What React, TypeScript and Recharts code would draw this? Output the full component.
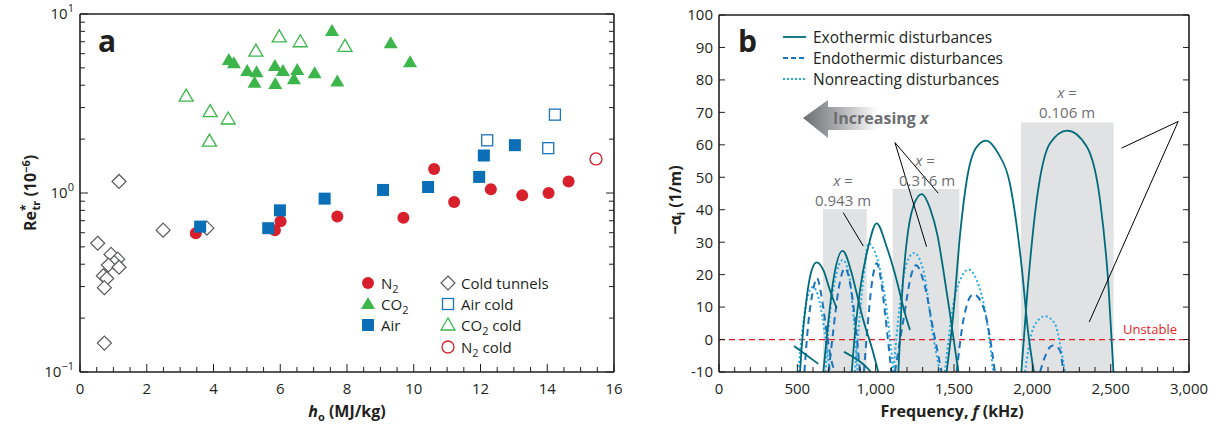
import React from 'react';
import {
  ScatterChart, Scatter, LineChart, Line, XAxis, YAxis, ReferenceArea, ReferenceLine,
} from 'recharts';

const FONT = '"Open Sans", "Noto Sans", sans-serif';
const INK = '#231f20';
const GRAY_TXT = '#6d6e71';

// ---- panel a: h0 (MJ/kg) vs Re*tr (1e-6) ----
type Pt = [number, number];
const n2: Pt[] = [[3.47, 0.595], [5.84, 0.62], [6.01, 0.695], [7.71, 0.74], [9.69, 0.728], [10.61, 1.36], [11.21, 0.89], [12.31, 1.05], [13.25, 0.97], [14.04, 1.0], [14.64, 1.16]];
const co2: Pt[] = [[4.46, 5.53], [4.61, 5.3], [5.01, 4.81], [5.29, 4.72], [5.23, 4.13], [5.84, 5.12], [6.08, 4.81], [5.85, 4.06], [6.51, 4.87], [6.41, 4.32], [7.03, 4.66], [7.71, 4.19], [7.55, 8.04], [9.31, 6.86], [9.89, 5.37]];
const air: Pt[] = [[3.6, 0.649], [5.64, 0.636], [5.99, 0.8], [7.33, 0.93], [9.08, 1.04], [10.43, 1.08], [11.96, 1.23], [12.1, 1.62], [13.03, 1.85]];
const coldTunnels: Pt[] = [[1.17, 1.16], [2.49, 0.62], [3.8, 0.636], [0.53, 0.524], [0.93, 0.454], [1.13, 0.427], [1.03, 0.408], [0.85, 0.396], [1.17, 0.385], [0.7, 0.345], [0.8, 0.333], [0.73, 0.296], [0.73, 0.145]];
const airCold: Pt[] = [[12.2, 1.97], [14.23, 2.74], [14.03, 1.78]];
const co2Cold: Pt[] = [[3.18, 3.48], [3.9, 2.85], [3.88, 1.95], [4.44, 2.59], [5.27, 6.2], [5.97, 7.45], [6.6, 7.0], [7.94, 6.6]];
const n2Cold: Pt[] = [[15.46, 1.55]];

const aXTicks = Array.from({ length: 33 }, (_, i) => i * 0.5);
const aYDecades = [0.1, 1, 10];
const aYMinor = [2, 3, 4, 5, 6, 7, 8, 9];
const aYTicks = [...aYDecades, ...[0.1, 1].flatMap((d) => aYMinor.map((m) => +(d * m).toFixed(2)))];

// ---- panel b: frequency (kHz) vs -alpha_i (1/m) ----
const exo: Pt[][] = [
  [[517, -10], [528, -2.3], [560, 13], [592, 21.4], [623, 23.8], [666, 21.4], [708, 15.2], [751, 9.6]],
  [[479, -2], [634, -7.5]],
  [[666, -10], [688, 0.8], [730, 18.3], [789, 27.3], [847, 20.4], [879, 14.2], [921, 6], [974, -2.3], [1017, -10]],
  [[798, -3.8], [941, -8.5], [970, -10]],
  [[847, -10], [870, 3], [900, 15.2], [953, 28.6], [1006, 35.8], [1070, 28.6], [1134, 18.3], [1187, 8], [1219, 2.9]],
  [[1145, -10], [1166, 12], [1198, 30], [1240, 41], [1294, 44.8], [1350, 40], [1395, 32], [1430, 22], [1474, 8], [1528, -10]],
  [[1453, -10], [1496, 8], [1540, 33], [1581, 49], [1640, 59], [1704, 61.3], [1780, 57.5], [1857, 48], [1932, 22.4], [1974, 1.9], [2010, -10]],
  [[1930, -10], [1964, 12], [2028, 43], [2113, 60.5], [2223, 64.4], [2347, 59.5], [2432, 43], [2485, 17.3], [2518, -10]],
];
const endo: Pt[][] = [
  [[545, -10], [570, 5], [600, 15], [625, 19], [652, 14], [685, 3], [715, -6], [740, -10]],
  [[700, -10], [730, 3], [765, 16], [804, 22], [845, 15], [875, 3], [900, -10]],
  [[925, -10], [950, 5], [975, 17], [1006, 23.5], [1035, 18], [1060, 8], [1085, -3], [1100, -10]],
  [[1123, -10], [1177, 6], [1230, 20.4], [1257, 22.9], [1315, 16.2], [1368, 2.9], [1421, -10]],
  [[1517, -10], [1560, 6], [1623, 14], [1687, 10], [1729, 0.8], [1761, -10]],
  [[2049, -10], [2080, -5.4], [2113, -2.3], [2133, -1.8], [2176, -3.3], [2197, -10]],
];
const nonreact: Pt[][] = [
  [[506, -10], [530, 2], [560, 12], [600, 16.2], [640, 12], [675, 2], [708, -10]],
  [[680, -10], [700, 4], [735, 17], [790, 24.5], [830, 20], [860, 6], [885, -10]],
  [[868, -10], [900, 8], [932, 23.5], [953, 29.6], [1006, 25.5], [1049, 16.2], [1081, 5], [1113, -10]],
  [[1113, -10], [1155, 11], [1198, 23.5], [1245, 26.7], [1304, 21.4], [1368, 0.8], [1410, -10]],
  [[1442, -10], [1496, 11], [1549, 19.3], [1591, 21.6], [1645, 18.3], [1709, 6], [1751, -10]],
  [[1953, -10], [1995, 1.9], [2038, 6], [2080, 7.2], [2144, 4.9], [2176, -1.2], [2208, -10]],
];
// shaded x ranges: [f0, f1, top]
const boxes: [number, number, number][] = [[664, 943, 40.2], [1108, 1534, 46.4], [1927, 2519, 66.9]];
// neutral-stability threshold line
const unstableLine: Pt[] = [[0, 0], [3000, 0]];
const bXTicks = Array.from({ length: 31 }, (_, i) => i * 100);
const bYTicks = Array.from({ length: 12 }, (_, i) => -10 + i * 10);

const xy = (a: Pt[]) => a.map(([x, y]) => ({ x, y }));
const fv = (a: Pt[]) => a.map(([f, v]) => ({ f, v }));

const RED = '#d7202b';
const GREEN = '#3cb54a';
const BLUE = '#0a6fb7';
const OPEN_BLUE = '#1b75bc';
const DIAMOND = '#58595b';
const EXO = '#006b7d';
const ENDO = '#1c75bc';
const NONR = '#29abe2';
const UNSTABLE = '#e31e26';

const filledCircle = (p: any) => <circle cx={p.cx} cy={p.cy} r={6} fill={RED} />;
const openCircle = (p: any) => <circle cx={p.cx} cy={p.cy} r={6} fill="none" stroke={RED} strokeWidth={1.3} />;
const filledTri = (p: any) => (
  <polygon points={`${p.cx},${p.cy - 7} ${p.cx - 7},${p.cy + 5} ${p.cx + 7},${p.cy + 5}`} fill={GREEN} />
);
const openTri = (p: any) => (
  <polygon points={`${p.cx},${p.cy - 7} ${p.cx - 7},${p.cy + 5} ${p.cx + 7},${p.cy + 5}`} fill="none" stroke={GREEN} strokeWidth={1.3} />
);
const filledSq = (p: any) => <rect x={p.cx - 6} y={p.cy - 6} width={12} height={12} fill={BLUE} />;
const openSq = (p: any) => <rect x={p.cx - 5.5} y={p.cy - 5.5} width={11} height={11} fill="none" stroke={OPEN_BLUE} strokeWidth={1.3} />;
const diamond = (p: any) => (
  <polygon points={`${p.cx},${p.cy - 7} ${p.cx + 7},${p.cy} ${p.cx},${p.cy + 7} ${p.cx - 7},${p.cy}`} fill="#fff" stroke={DIAMOND} strokeWidth={1.2} />
);

// inward ticks drawn by hand so majors and minors can differ
const xTick = (isMajor: (v: number) => boolean, label: ((v: number) => string) | null, inward: number) => (p: any) => {
  const v = p.payload.value;
  const maj = isMajor(v);
  const len = maj ? 8 : 5;
  return (
    <g>
      <line x1={p.x} y1={p.y} x2={p.x} y2={p.y + inward * len} stroke={INK} strokeWidth={1} />
      {label && maj ? (
        <text x={p.x} y={p.y + 22} textAnchor="middle" fontFamily={FONT} fontSize={15} fill={INK}>{label(v)}</text>
      ) : null}
    </g>
  );
};
const yTick = (isMajor: (v: number) => boolean, label: ((v: number) => React.ReactNode) | null, inward: number, majLen = 8) => (p: any) => {
  const v = p.payload.value;
  const maj = isMajor(v);
  const len = maj ? majLen : 5;
  return (
    <g>
      <line x1={p.x} y1={p.y} x2={p.x + inward * len} y2={p.y} stroke={INK} strokeWidth={1} />
      {label && maj ? (
        <text x={p.x - 6} y={p.y} dy="0.36em" textAnchor="end" fontFamily={FONT} fontSize={15} fill={INK}>{label(v)}</text>
      ) : null}
    </g>
  );
};

const isDecade = (v: number) => aYDecades.some((d) => Math.abs(d - v) < 1e-9);
const decadeLabel = (v: number) => (
  <>
    10<tspan dy={-7} fontSize={11}>{Math.round(Math.log10(v)) < 0 ? '\u2212' : ''}{Math.abs(Math.round(Math.log10(v)))}</tspan>
  </>
);

const axisLine = { stroke: INK, strokeWidth: 1.6 };

function PanelA() {
  const evenInt = (v: number) => Math.abs(v / 2 - Math.round(v / 2)) < 1e-9;
  return (
    <ScatterChart width={640} height={427} margin={{ top: 13, right: 25, bottom: 25, left: 20 }}>
      <XAxis xAxisId="b" type="number" dataKey="x" domain={[0, 16]} ticks={aXTicks} interval={0} height={30} stroke={INK}
        tickSize={0} tickMargin={0} tickLine={false} axisLine={axisLine} tick={xTick(evenInt, (v) => String(v), -1)} />
      <XAxis xAxisId="t" orientation="top" type="number" domain={[0, 16]} ticks={aXTicks} interval={0} height={1} stroke={INK}
        tickSize={0} tickMargin={0} tickLine={false} axisLine={axisLine} tick={xTick(evenInt, null, 1)} />
      <YAxis yAxisId="l" type="number" dataKey="y" scale="log" domain={[0.1, 10]} ticks={aYTicks} interval={0} width={60} stroke={INK}
        tickSize={0} tickMargin={0} tickLine={false} axisLine={axisLine} tick={yTick(isDecade, decadeLabel, 1)} allowDataOverflow />
      <YAxis yAxisId="r" orientation="right" type="number" scale="log" domain={[0.1, 10]} ticks={aYTicks} interval={0} width={1} stroke={INK}
        tickSize={0} tickMargin={0} tickLine={false} axisLine={axisLine} tick={yTick(isDecade, null, -1)} allowDataOverflow />
      <Scatter xAxisId="b" yAxisId="l" data={xy(coldTunnels)} shape={diamond} isAnimationActive={false} />
      <Scatter xAxisId="b" yAxisId="l" data={xy(n2)} shape={filledCircle} isAnimationActive={false} />
      <Scatter xAxisId="b" yAxisId="l" data={xy(air)} shape={filledSq} isAnimationActive={false} />
      <Scatter xAxisId="b" yAxisId="l" data={xy(co2)} shape={filledTri} isAnimationActive={false} />
      <Scatter xAxisId="b" yAxisId="l" data={xy(airCold)} shape={openSq} isAnimationActive={false} />
      <Scatter xAxisId="b" yAxisId="l" data={xy(co2Cold)} shape={openTri} isAnimationActive={false} />
      <Scatter xAxisId="b" yAxisId="l" data={xy(n2Cold)} shape={openCircle} isAnimationActive={false} />
    </ScatterChart>
  );
}

function PanelB() {
  const every500 = (v: number) => v % 500 === 0;
  const all = () => true;
  return (
    <LineChart width={581} height={427} margin={{ top: 14, right: 31, bottom: 25, left: 19 }}>
      <XAxis xAxisId="b" type="number" dataKey="f" domain={[0, 3000]} ticks={bXTicks} interval={0} height={30} stroke={INK}
        tickSize={0} tickMargin={0} tickLine={false} axisLine={axisLine} tick={xTick(every500, (v) => v.toLocaleString('en-US'), -1)} />
      <XAxis xAxisId="t" orientation="top" type="number" domain={[0, 3000]} ticks={bXTicks} interval={0} height={1} stroke={INK}
        tickSize={0} tickMargin={0} tickLine={false} axisLine={axisLine} tick={xTick(every500, null, 1)} />
      <YAxis yAxisId="l" type="number" dataKey="v" domain={[-10, 100]} ticks={bYTicks} interval={0} width={60} stroke={INK}
        tickSize={0} tickMargin={0} tickLine={false} axisLine={axisLine} tick={yTick(all, (v) => String(v), 1, 6)} allowDataOverflow />
      <YAxis yAxisId="r" orientation="right" type="number" domain={[-10, 100]} ticks={bYTicks} interval={0} width={1} stroke={INK}
        tickSize={0} tickMargin={0} tickLine={false} axisLine={axisLine} tick={yTick(all, null, -1, 6)} allowDataOverflow />
      {boxes.map(([f0, f1, top], i) => (
        <ReferenceArea key={`box${i}`} xAxisId="b" yAxisId="l" x1={f0} x2={f1} y1={-10} y2={top} fill="#e1e2e3" fillOpacity={1} stroke="none" />
      ))}
      <Line xAxisId="b" yAxisId="l" data={fv(unstableLine)} dataKey="v" type="linear" stroke={UNSTABLE} strokeWidth={1.2}
        strokeDasharray="6 4" dot={false} isAnimationActive={false} />
      {nonreact.map((d, i) => (
        <Line key={`n${i}`} xAxisId="b" yAxisId="l" data={fv(d)} dataKey="v" type="monotone" stroke={NONR} strokeWidth={2}
          strokeDasharray="2 2.5" dot={false} isAnimationActive={false} />
      ))}
      {endo.map((d, i) => (
        <Line key={`e${i}`} xAxisId="b" yAxisId="l" data={fv(d)} dataKey="v" type="monotone" stroke={ENDO} strokeWidth={2}
          strokeDasharray="7 5" dot={false} isAnimationActive={false} />
      ))}
      {exo.map((d, i) => (
        <Line key={`x${i}`} xAxisId="b" yAxisId="l" data={fv(d)} dataKey="v" type="monotone" stroke={EXO} strokeWidth={1.8}
          dot={false} isAnimationActive={false} />
      ))}
      <ReferenceLine xAxisId="b" yAxisId="l" segment={[{ x: 793, y: 39.1 }, { x: 921, y: 28.8 }]} stroke="#000" strokeWidth={1} />
      <ReferenceLine xAxisId="b" yAxisId="l" segment={[{ x: 1123, y: 60.7 }, { x: 1399, y: 45.1 }]} stroke="#000" strokeWidth={1} />
      <ReferenceLine xAxisId="b" yAxisId="l" segment={[{ x: 1123, y: 60.7 }, { x: 1325, y: 28.6 }]} stroke="#000" strokeWidth={1} />
      <ReferenceLine xAxisId="b" yAxisId="l" segment={[{ x: 2931, y: 67.2 }, { x: 2570, y: 59 }]} stroke="#000" strokeWidth={1} />
      <ReferenceLine xAxisId="b" yAxisId="l" segment={[{ x: 2931, y: 67.2 }, { x: 2363, y: 5.4 }]} stroke="#000" strokeWidth={1} />
    </LineChart>
  );
}

function Overlay() {
  const legA = [
    { y: 283, col: 0, label: <>N<tspan dy={4} fontSize={11}>2</tspan></>, m: filledCircle },
    { y: 304, col: 0, label: <>CO<tspan dy={4} fontSize={11}>2</tspan></>, m: filledTri },
    { y: 325, col: 0, label: <>Air</>, m: filledSq },
    { y: 283, col: 1, label: <>Cold tunnels</>, m: diamond },
    { y: 304, col: 1, label: <>Air cold</>, m: openSq },
    { y: 325, col: 1, label: <>CO<tspan dy={4} fontSize={11}>2</tspan><tspan dy={-4}> cold</tspan></>, m: openTri },
    { y: 347, col: 1, label: <>N<tspan dy={4} fontSize={11}>2</tspan><tspan dy={-4}> cold</tspan></>, m: openCircle },
  ];
  const legB = [
    { y: 37, label: 'Exothermic disturbances', stroke: EXO, dash: undefined as string | undefined },
    { y: 58, label: 'Endothermic disturbances', stroke: ENDO, dash: '5 3' },
    { y: 79, label: 'Nonreacting disturbances', stroke: NONR, dash: '2 2' },
  ];
  const t = { fontFamily: FONT, fill: INK };
  const g = { fontFamily: FONT, fill: GRAY_TXT, fontSize: 15 };
  return (
    <svg width={1221} height={427} style={{ position: 'absolute', left: 0, top: 0, pointerEvents: 'none' }}>
      <defs>
        <linearGradient id="arrowGrad" gradientUnits="userSpaceOnUse" x1={803} y1={0} x2={878} y2={0}>
          <stop offset="0" stopColor="#6d6e71" />
          <stop offset="0.45" stopColor="#a7a9ac" />
          <stop offset="1" stopColor="#ffffff" />
        </linearGradient>
      </defs>
      {/* panel a text */}
      <text x={98} y={52} {...t} fontSize={30} fontWeight={700}>a</text>
      <text transform="translate(36,193) rotate(-90)" textAnchor="middle" {...t} fontSize={16} fontWeight={700}>
        Re<tspan dy={-6} fontSize={12}>*</tspan><tspan dx={-6} dy={10} fontSize={11}>tr</tspan>
        <tspan dy={-4}> (10</tspan><tspan dy={-6} fontSize={11}>{'\u2212'}6</tspan><tspan dy={6}>)</tspan>
      </text>
      <text x={347} y={417} textAnchor="middle" {...t} fontSize={16} fontWeight={700}>
        <tspan fontStyle="italic">h</tspan><tspan dy={4} fontSize={11}>o</tspan><tspan dy={-4}> (MJ/kg)</tspan>
      </text>
      {legA.map((r, i) => {
        const mx = r.col === 0 ? 368 : 448;
        return (
          <g key={i}>
            {r.m({ cx: mx, cy: r.y })}
            <text x={mx + 13} y={r.y + 5.5} {...t} fontSize={15}>{r.label}</text>
          </g>
        );
      })}
      {/* panel b text */}
      <text x={738} y={52} {...t} fontSize={30} fontWeight={700}>b</text>
      {legB.map((r, i) => (
        <g key={i}>
          <line x1={783} x2={806} y1={r.y} y2={r.y} stroke={r.stroke} strokeWidth={1.8} strokeDasharray={r.dash} />
          <text x={813} y={r.y + 5.5} {...t} fontSize={15.5}>{r.label}</text>
        </g>
      ))}
      <text transform="translate(681,200) rotate(-90)" textAnchor="middle" {...t} fontSize={16} fontWeight={700}>
        {'\u2212'}{'\u03b1'}<tspan dy={4} fontSize={11}>i</tspan><tspan dy={-4}> (1/m)</tspan>
      </text>
      <text x={952} y={417} textAnchor="middle" {...t} fontSize={16} fontWeight={700}>
        Frequency, <tspan fontStyle="italic">f</tspan> (kHz)
      </text>
      <polygon points="803,118 828,100 828,107 878,107 878,130 828,130 828,138" fill="url(#arrowGrad)" />
      <text x={833} y={124} fontFamily={FONT} fill={GRAY_TXT} fontSize={16} fontWeight={700}>
        Increasing <tspan fontStyle="italic">x</tspan>
      </text>
      <text x={843} y={186} textAnchor="middle" {...g}><tspan fontStyle="italic">x</tspan> =</text>
      <text x={843} y={206} textAnchor="middle" {...g}>0.943 m</text>
      <text x={925} y={166} textAnchor="middle" {...g}><tspan fontStyle="italic">x</tspan> =</text>
      <text x={927} y={186} textAnchor="middle" {...g}>0.316 m</text>
      <text x={1067} y={98} textAnchor="middle" {...g}><tspan fontStyle="italic">x</tspan> =</text>
      <text x={1067} y={118} textAnchor="middle" {...g}>0.106 m</text>
      <text x={1177} y={334} textAnchor="end" fontFamily={FONT} fill={UNSTABLE} fontSize={13}>Unstable</text>
    </svg>
  );
}

export default function App() {
  return (
    <div style={{ position: 'absolute', left: 0, top: 0, width: 1221, height: 427, background: '#fff' }}>
      <div style={{ position: 'absolute', left: 0, top: 0 }}>
        <PanelA />
      </div>
      <div style={{ position: 'absolute', left: 640, top: 0 }}>
        <PanelB />
      </div>
      <Overlay />
    </div>
  );
}
